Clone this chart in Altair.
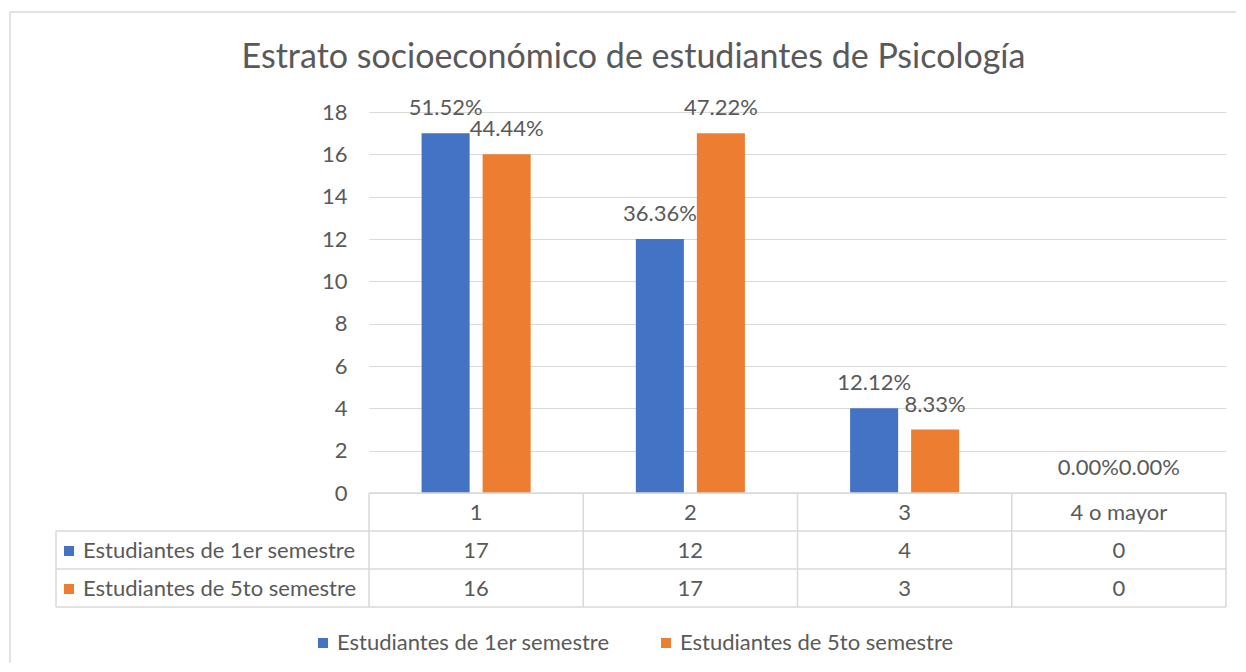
import altair as alt
import pandas as pd

categories = ["1", "2", "3", "4 o mayor"]
series_names = ["Estudiantes de 1er semestre", "Estudiantes de 5to semestre"]
first_sem = [17, 12, 4, 0]
fifth_sem = [16, 17, 3, 0]
first_pct = ["51.52%", "36.36%", "12.12%", "0.00%"]
fifth_pct = ["44.44%", "47.22%", "8.33%", "0.00%"]
colors = ["#4472C4", "#ED7D31"]
y_ticks = list(range(0, 19, 2))
title_text = "Estrato socioeconómico de estudiantes de Psicología"

W, H = 857, 381
FONT = "Lato"
FS = 22
TXT = "#595959"
GRID = "#D9D9D9"
ROW_H = 38

rows = []
for s, vals, pcts in [(series_names[0], first_sem, first_pct),
                      (series_names[1], fifth_sem, fifth_pct)]:
    for c, v, p in zip(categories, vals, pcts):
        rows.append({"cat": c, "series": s, "value": v, "pct": p})
df = pd.DataFrame(rows)
one = pd.DataFrame({"k": [0]})

x_scale = alt.Scale(domain=categories, paddingInner=0, paddingOuter=0)
x_enc = alt.X("cat:N", sort=categories, scale=x_scale, axis=None)
xoff = alt.XOffset("series:N", sort=series_names,
                   scale=alt.Scale(domain=series_names, paddingInner=0.213, paddingOuter=0.862))
y_enc = alt.Y("value:Q", scale=alt.Scale(domain=[0, 18], nice=False),
              axis=alt.Axis(values=y_ticks, title=None, domain=False, ticks=False,
                            labelPadding=22, labelFont=FONT, labelFontSize=FS,
                            labelColor=TXT, gridColor=GRID, gridWidth=1))
color_enc = alt.Color("series:N", sort=series_names,
                      scale=alt.Scale(domain=series_names, range=colors),
                      legend=alt.Legend(orient="none", legendX=-57, legendY=520,
                                        direction="horizontal", title=None,
                                        symbolType="square", symbolSize=100,
                                        symbolStrokeWidth=0, labelFont=FONT,
                                        labelFontSize=FS, labelColor=TXT,
                                        labelOffset=3, columnPadding=45,
                                        labelLimit=400))

border = alt.Chart(one).mark_rect(fillOpacity=0, stroke=GRID, strokeWidth=1.5).encode(
    x=alt.value(-359), x2=alt.value(W + 100), y=alt.value(-100), y2=alt.value(H + 300))

bars = alt.Chart(df).mark_bar().encode(x=x_enc, xOffset=xoff, y=y_enc, color=color_enc)

labels = alt.Chart(df).mark_text(baseline="alphabetic", dy=-18, font=FONT,
                                 fontSize=FS, color=TXT).encode(
    x=x_enc, xOffset=xoff, y=alt.Y("value:Q", scale=alt.Scale(domain=[0, 18], nice=False)),
    text="pct:N")

# table lines
hlines = [(0, W, H), (-313, W, H + ROW_H), (-313, W, H + 2 * ROW_H), (-313, W, H + 3 * ROW_H)]
line_layers = []
for x1, x2, yy in hlines:
    line_layers.append(alt.Chart(one).mark_rule(color=GRID, strokeWidth=1.5).encode(
        x=alt.value(x1), x2=alt.value(x2), y=alt.value(yy)))
col_lines = alt.Chart(pd.DataFrame({"cat": categories})).mark_rule(
    color=GRID, strokeWidth=1.5).encode(
    x=alt.X("cat:N", sort=categories, scale=x_scale, axis=None, bandPosition=0),
    y=alt.value(H), y2=alt.value(H + 3 * ROW_H))
right_line = alt.Chart(one).mark_rule(color=GRID, strokeWidth=1.5).encode(
    x=alt.value(W), y=alt.value(H), y2=alt.value(H + 3 * ROW_H))
left_line = alt.Chart(one).mark_rule(color=GRID, strokeWidth=1.5).encode(
    x=alt.value(-313), y=alt.value(H + ROW_H), y2=alt.value(H + 3 * ROW_H))

header = alt.Chart(pd.DataFrame({"cat": categories})).mark_text(
    font=FONT, fontSize=FS, color=TXT, baseline="middle").encode(
    x=x_enc, y=alt.value(H + 20), text="cat:N")

table_layers = []
for i, s in enumerate(series_names):
    yy = H + 20 + ROW_H * (i + 1)
    table_layers.append(alt.Chart(df).transform_filter(alt.datum.series == s).mark_text(
        font=FONT, fontSize=FS, color=TXT, baseline="middle").encode(
        x=x_enc, y=alt.value(yy), text="value:Q"))
    sdf = pd.DataFrame({"series": [s]})
    table_layers.append(alt.Chart(sdf).mark_square(size=100, opacity=1, color=colors[i]).encode(
        x=alt.value(-300), y=alt.value(yy)))
    table_layers.append(alt.Chart(sdf).mark_text(
        font=FONT, fontSize=FS, color=TXT, baseline="middle", align="left").encode(
        x=alt.value(-286), y=alt.value(yy), text="series:N"))

chart = alt.layer(border, bars, labels, *line_layers, col_lines, right_line, left_line,
                  header, *table_layers).properties(
    width=W, height=H,
    padding={"left": 361, "top": 104, "right": 10, "bottom": 170},
    autosize=alt.AutoSizeParams(type="none"),
    title=alt.TitleParams(title_text, font=FONT, fontSize=34, fontWeight="normal",
                          color=TXT, anchor="middle", dx=-164, offset=-91,
                          baseline="alphabetic"),
).configure_view(stroke=None)

chart.save("out.html", embed_options={"renderer": "svg", "actions": False})
